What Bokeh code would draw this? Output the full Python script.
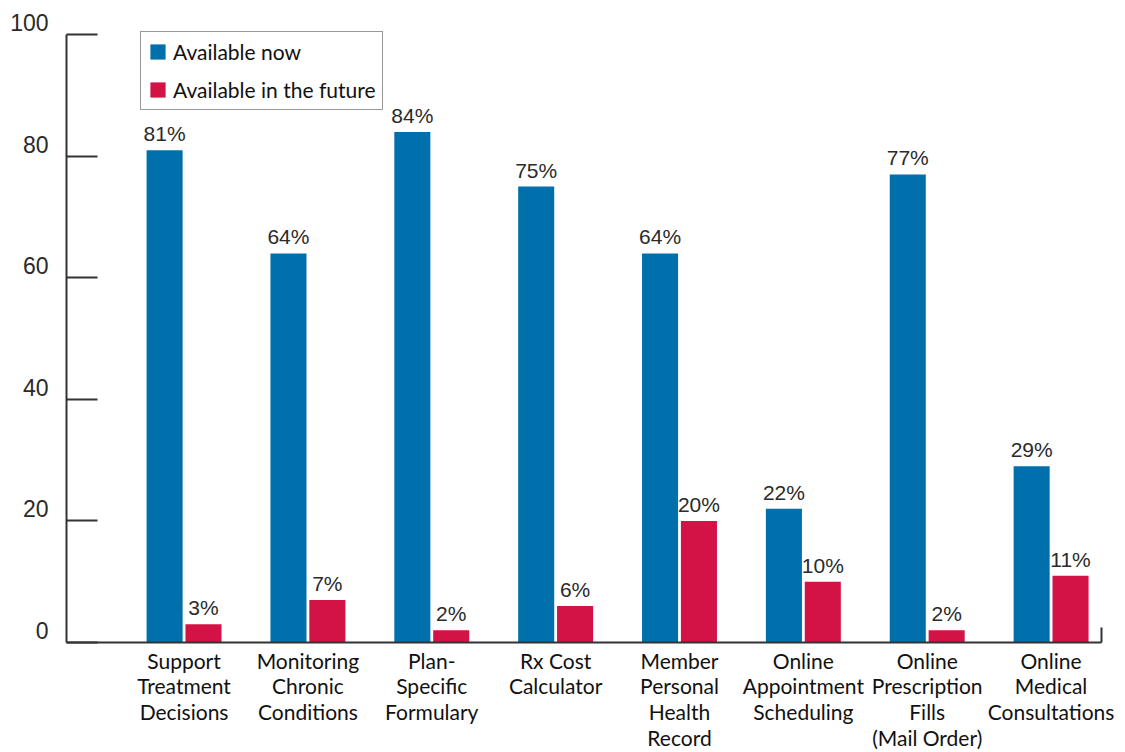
from bokeh.plotting import figure
from bokeh.models import (ColumnDataSource, LabelSet, Legend, LegendItem,
                          FixedTicker, Range1d, LinearAxis)
from bokeh.core.properties import value
from bokeh.transform import dodge
from bokeh.embed import file_html
from bokeh.resources import INLINE

categories = [
    "Support\nTreatment\nDecisions",
    "Monitoring\nChronic\nConditions",
    "Plan-\nSpecific\nFormulary",
    "Rx Cost\nCalculator",
    "Member\nPersonal\nHealth\nRecord",
    "Online\nAppointment\nScheduling",
    "Online\nPrescription\nFills\n(Mail Order)",
    "Online\nMedical\nConsultations",
]
available_now = [81, 64, 84, 75, 64, 22, 77, 29]
available_future = [3, 7, 2, 6, 20, 10, 2, 11]
y_ticks = [0, 20, 40, 60, 80, 100]

BLUE = "#0070AD"
RED = "#D31245"
AXIS = "#333333"
TXT = "#2a2a2a"
CAT_FONT = "Lato"
NUM_FONT = "Liberation Sans"

X0, X1 = -0.949, 7.407
OFF = 0.157
BW = 0.291
LBL_SHIFT = 2  # y tick labels sit slightly above their ticks

xs = list(range(len(categories)))
src = ColumnDataSource(dict(
    x=xs,
    now=available_now,
    fut=available_future,
    now_lbl=[f"{v}%" for v in available_now],
    fut_lbl=[f"{v}%" for v in available_future],
))

p = figure(width=1118, height=752, x_range=Range1d(X0, X1),
           y_range=Range1d(0, 100 + LBL_SHIFT),
           output_backend="svg", toolbar_location=None,
           min_border_left=66, min_border_top=22, min_border_bottom=108, min_border_right=17)
p.outline_line_color = None
p.grid.visible = False
p.background_fill_color = "white"
p.border_fill_color = "white"
p.extra_y_ranges = {"lbl": Range1d(-LBL_SHIFT, 100)}

r_now = p.vbar(x=dodge("x", -OFF, range=p.x_range), top="now", width=BW, source=src,
               fill_color=BLUE, line_color=None)
r_fut = p.vbar(x=dodge("x", OFF, range=p.x_range), top="fut", width=BW, source=src,
               fill_color=RED, line_color=None)

# value labels
for col, top, off in (("now_lbl", "now", -OFF), ("fut_lbl", "fut", OFF)):
    p.add_layout(LabelSet(x=dodge("x", off, range=p.x_range), y=top, text=col, source=src,
                          y_offset=9, text_align="center", text_baseline="alphabetic",
                          text_font=value(NUM_FONT), text_font_size=value("21px"),
                          text_color=TXT))

# x axis
xa = p.xaxis[0]
xa.ticker = FixedTicker(ticks=xs, minor_ticks=[X1 - 0.004])
xa.major_label_overrides = {i: c for i, c in zip(xs, categories)}
xa.major_tick_in = 0
xa.major_tick_out = 0
xa.minor_tick_in = 15
xa.minor_tick_out = 0
xa.minor_tick_line_color = AXIS
xa.minor_tick_line_width = 2
xa.axis_line_color = AXIS
xa.axis_line_width = 2
xa.major_label_standoff = 5
xa.major_label_text_font = CAT_FONT
xa.major_label_text_font_size = "21px"
xa.major_label_text_color = "#111111"
xa.major_label_text_line_height = 1.03

# y axis: line and inward ticks
ya = p.yaxis[0]
ya.ticker = FixedTicker(ticks=y_ticks, minor_ticks=[])
ya.bounds = (0, 100)
ya.major_tick_in = 31
ya.major_tick_out = 0
ya.major_tick_line_color = AXIS
ya.major_tick_line_width = 2
ya.axis_line_color = AXIS
ya.axis_line_width = 2
ya.major_label_text_font_size = "0px"
ya.major_label_text_alpha = 0
ya.major_label_standoff = 0

# y axis labels
yl = LinearAxis(y_range_name="lbl", ticker=FixedTicker(ticks=y_ticks, minor_ticks=[]))
yl.axis_line_color = None
yl.major_tick_line_color = None
yl.minor_tick_line_color = None
yl.major_tick_in = 0
yl.major_tick_out = 0
yl.major_label_standoff = 18
yl.major_label_text_font = NUM_FONT
yl.major_label_text_font_size = "23px"
yl.major_label_text_color = TXT
p.add_layout(yl, "left")

legend = Legend(items=[LegendItem(label="Available now", renderers=[r_now]),
                       LegendItem(label="Available in the future", renderers=[r_fut])],
                location=(74, 532))
legend.label_text_font = CAT_FONT
legend.label_text_font_size = "21px"
legend.label_text_color = "#111111"
legend.glyph_width = 19
legend.glyph_height = 19
legend.label_height = 19
legend.label_standoff = 6
legend.spacing = 13
legend.padding = 7
legend.margin = 0
legend.border_line_color = "#333333"
legend.border_line_width = 1.5
legend.background_fill_alpha = 1
p.add_layout(legend)

open("out.html", "w").write(file_html(p, INLINE))
